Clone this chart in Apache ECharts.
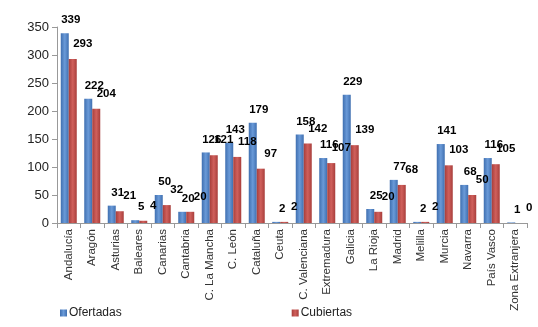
<!DOCTYPE html>
<html><head><meta charset="utf-8">
<script src="https://cdn.jsdelivr.net/npm/echarts@6/dist/echarts.min.js"></script>
<style>html,body{margin:0;padding:0;background:#fff}#c{width:538px;height:327px}</style>
</head><body><div id="c"></div>
<script>
const categories = ["Andalucía","Aragón","Asturias","Baleares","Canarias","Cantabria","C. La Mancha","C. León","Cataluña","Ceuta","C. Valenciana","Extremadura","Galicia","La Rioja","Madrid","Melilla","Murcia","Navarra","País Vasco","Zona Extranjera"];
const ofertadas = [339,222,31,5,50,20,126,143,179,2,158,116,229,25,77,2,141,68,116,1];
const cubiertas = [293,204,21,4,32,20,121,118,97,2,142,107,139,20,68,2,103,50,105,0];
const yTicks = [0,50,100,150,200,250,300,350];

function grad(c1,c2){return new echarts.graphic.LinearGradient(0,0,1,0,[{offset:0,color:c1},{offset:0.5,color:c2},{offset:1,color:c1}]);}
const chart = echarts.init(document.getElementById('c'));
const lbl = {show:true,position:'top',offset:[6,-2],color:'#000',fontWeight:'bold',fontSize:11.5,fontFamily:'Liberation Sans, Arial'};
chart.setOption({
  animation:false,
  grid:{left:57,right:11,top:27,bottom:104,containLabel:false},
  legend:{left:55,top:302,itemGap:170,itemWidth:7,itemHeight:7,icon:'rect',
    textStyle:{fontSize:12,color:'#222',fontFamily:'Liberation Sans, Arial',padding:[0,0,0,-3]},
    data:['Ofertadas','Cubiertas']},
  xAxis:{type:'category',data:categories,
    axisLine:{lineStyle:{color:'#999'}},
    axisTick:{show:true,alignWithLabel:false,lineStyle:{color:'#999'}},
    axisLabel:{rotate:90,interval:0,fontSize:11.5,color:'#333',fontFamily:'Liberation Sans, Arial',margin:6}},
  yAxis:{type:'value',min:0,max:350,interval:50,
    axisLine:{show:true,lineStyle:{color:'#999'}},
    axisTick:{show:true,lineStyle:{color:'#999'}},
    splitLine:{show:false},
    axisLabel:{fontSize:13,color:'#222',fontFamily:'Liberation Sans, Arial',margin:8,
      formatter:v=>yTicks.includes(v)?String(v):''}},
  series:[
    {name:'Ofertadas',type:'bar',data:ofertadas,barWidth:8,barGap:'0%',
      itemStyle:{color:grad('#3F6FB0','#6A9AD8')},label:lbl},
    {name:'Cubiertas',type:'bar',data:cubiertas,barWidth:8,
      itemStyle:{color:grad('#A83E3B','#D0605C')},label:Object.assign({},lbl,{offset:[10,-4]})}
  ]
});
</script></body></html>
